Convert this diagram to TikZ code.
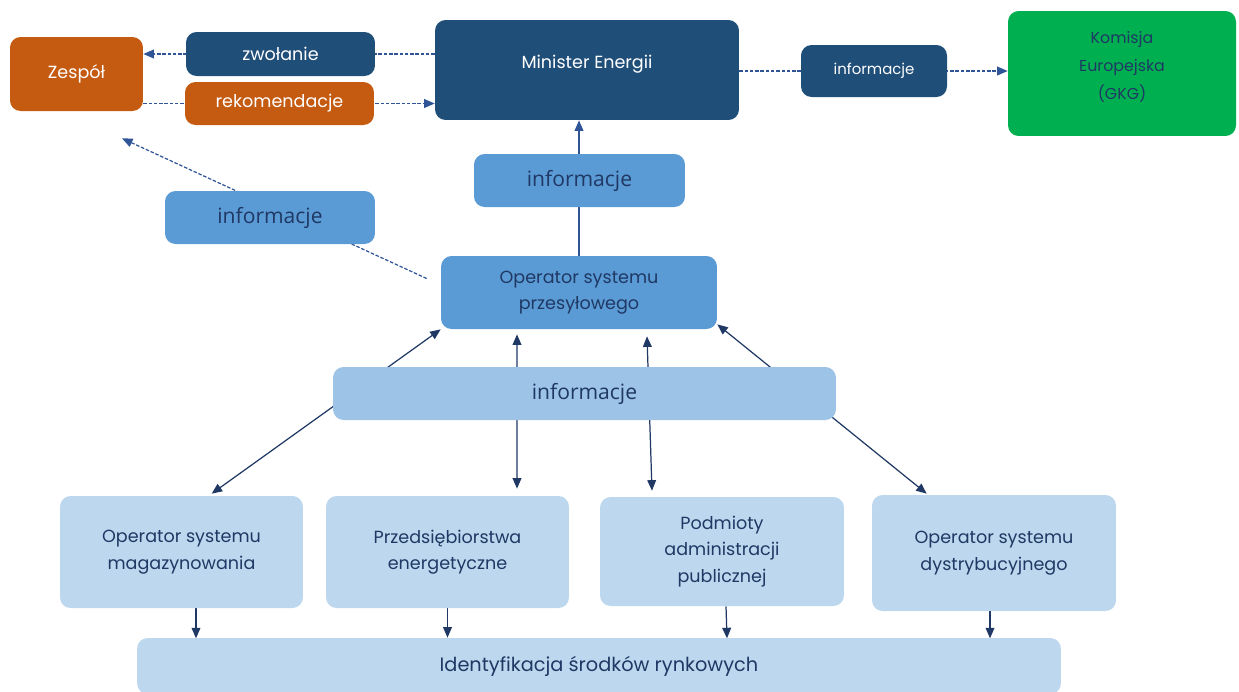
\documentclass[tikz,border=0pt]{standalone}
\usepackage{fontspec}
\setmainfont{Poppins}
\newfontfamily\infofont{Open Sans}
\usetikzlibrary{arrows.meta,calc,positioning}
\definecolor{orng}{HTML}{C55A11}
\definecolor{dblue}{HTML}{1F4E79}
\definecolor{mblue}{HTML}{5B9BD5}
\definecolor{lblue}{HTML}{9DC3E6}
\definecolor{pblue}{HTML}{BDD7EE}
\definecolor{grn}{HTML}{00B050}
\definecolor{navy}{HTML}{1F3864}
\definecolor{dline}{HTML}{2F5597}
\pgfdeclarelayer{edgelayer}
\pgfsetlayers{edgelayer,main}
\tikzset{
  blk/.style={rounded corners=6pt,inner sep=0pt,align=center,font=\fontsize{10}{15}\selectfont},
  dkbox/.style={blk,fill=dblue,text=white},
  orbox/.style={blk,fill=orng,text=white},
  mbox/.style={blk,fill=mblue,text=navy},
  lbox/.style={blk,fill=lblue,text=navy},
  pbox/.style={blk,fill=pblue,text=navy},
  infotxt/.style={font=\infofont\fontsize{12}{14}\selectfont},
  dsh/.style={dash pattern=on 2pt off 1pt,color=dline}
}

\begin{document}
\begin{tikzpicture}[x=0.02cm,y=-0.02cm,>={Triangle[length=6pt,width=5pt]}]
\useasboundingbox (0,0) rectangle (1239,691);
\node[orbox,minimum width=2.66cm,minimum height=1.48cm] (Z) at (76.5,74) {Zespół};
\node[dkbox,minimum width=3.78cm,minimum height=0.88cm] (W) at (280.5,54) {zwołanie};
\node[orbox,minimum width=3.78cm,minimum height=0.86cm] (R) at (279.5,103.5) {rekomendacje};
\node[dkbox,minimum width=6.08cm,minimum height=2cm,text depth=9pt] (M) at (587,70) {Minister Energii};
\node[dkbox,minimum width=2.92cm,minimum height=1.04cm,font=\fontsize{8.5}{12}\selectfont] (I1) at (874,71) {informacje};
\node[blk,fill=grn,text=navy,minimum width=4.56cm,minimum height=2.5cm,text depth=9pt,font=\fontsize{9}{16}\selectfont] (K) at (1122,73.5) {Komisja\\Europejska\\(GKG)};
\node[mbox,infotxt,minimum width=4.22cm,minimum height=1.06cm] (I2) at (579.5,180.5) {informacje};
\node[mbox,infotxt,minimum width=4.2cm,minimum height=1.06cm] (I3) at (270,217.5) {informacje};
\node[mbox,minimum width=5.52cm,minimum height=1.46cm] (O) at (579,292.5) {Operator systemu\\przesyłowego};
\node[lbox,infotxt,minimum width=10.06cm,minimum height=1.06cm] (I4) at (584.5,393.5) {informacje};
\node[pbox,minimum width=4.86cm,minimum height=2.24cm] (A) at (181.5,552) {Operator systemu\\magazynowania};
\node[pbox,minimum width=4.86cm,minimum height=2.24cm] (B) at (447.5,552) {Przedsiębiorstwa\\energetyczne};
\node[pbox,minimum width=4.88cm,minimum height=2.18cm] (C) at (722,551.5) {Podmioty\\administracji\\publicznej};
\node[pbox,minimum width=4.88cm,minimum height=2.32cm] (D) at (994,553) {Operator systemu\\dystrybucyjnego};
\node[pbox,minimum width=18.48cm,minimum height=1.12cm,font=\fontsize{11}{14}\selectfont] (E) at (599,666) {Identyfikacja środków rynkowych};
\begin{pgfonlayer}{edgelayer}
\path[->,line width=0.7pt,dsh]
(W -| M.west) edge (W -| Z.east)
(R -| Z.east) edge (R -| M.west)
(I1 -| M.east) edge (I1 -| K.west)
($(O.west)+(-14,-14)$) edge ($(Z.south)+(45.5,27)$);
\path[->,line width=0.7pt,color=dline]
(O.north) edge (O.north |- M.south);
\path[->,line width=0.7pt,color=navy]
(A.south) ++(14.5,0) edge ($(A.south)+(14.5,30)$)
(B.south) edge (B.south |- E.north)
($(C.south)+(4,0)$) edge ($(C.south)+(5,32)$)
($(D.south)+(-4,0)$) edge ($(D.south)+(-4,27)$);
\path[<->,line width=0.7pt,color=navy]
(O.south west) edge ($(A.north west)+(152,-2)$)
($(O.south)+(-62,5)$) edge ($(B.north)+(69.5,-7)$)
($(O.south)+(68,7)$) edge ($(C.north)+(-70,-6)$)
($(O.south east)+(0,-5)$) edge ($(D.north west)+(55,-1)$);
\end{pgfonlayer}
\end{tikzpicture}
\end{document}
